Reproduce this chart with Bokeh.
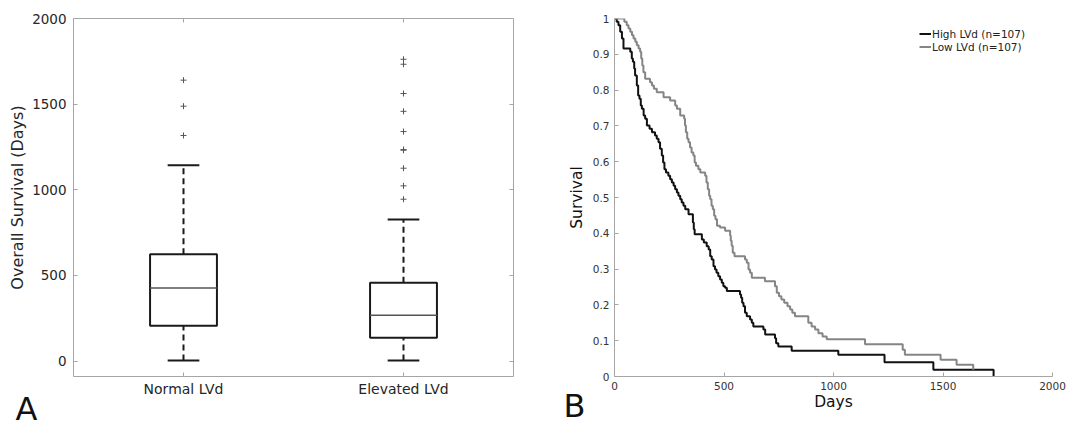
from bokeh.plotting import figure
from bokeh.layouts import row
from bokeh.models import (Range1d, FixedTicker, LinearAxis, Title, Legend,
                          LegendItem, NumeralTickFormatter)
from bokeh.embed import file_html
from bokeh.resources import INLINE

FONT = "DejaVu Sans"

# ---------------- Panel A: box plot data ----------------
categories = ["Normal LVd", "Elevated LVd"]
cat_pos = [1, 2]
q1 = [206, 136]
median = [426, 268]
q3 = [624, 457]
whisker_low = [4, 4]
whisker_high = [1143, 827]
outliers_normal = [1317, 1488, 1640]
outliers_elevated = [945, 1023, 1126, 1231, 1235, 1340, 1458, 1562, 1733, 1762]
box_y_ticks = [0, 500, 1000, 1500, 2000]

# ---------------- Panel B: Kaplan-Meier data ----------------
group_names = ["High LVd", "Low LVd"]
group_n = [107, 107]
high_t = [0, 10, 18, 26, 34, 41, 72, 79, 84, 90, 94, 102, 108, 114, 120, 125,
          133, 140, 148, 160, 171, 185, 193, 201, 208, 216, 222, 228, 235, 246,
          254, 262, 270, 277, 285, 292, 300, 307, 315, 323, 338, 358, 362, 366,
          399, 408, 421, 430, 437, 444, 452, 459, 466, 474, 482, 490, 497, 505,
          513, 573, 578, 583, 589, 596, 604, 619, 627, 634, 680, 688, 733, 738,
          748, 809, 1022, 1233, 1456, 1731]
high_s = [1.000, 0.991, 0.981, 0.963, 0.944, 0.916, 0.907, 0.888, 0.879, 0.860,
          0.841, 0.813, 0.785, 0.776, 0.757, 0.748, 0.729, 0.720, 0.701, 0.692,
          0.682, 0.673, 0.664, 0.654, 0.636, 0.617, 0.598, 0.579, 0.570, 0.561,
          0.551, 0.542, 0.533, 0.523, 0.514, 0.505, 0.495, 0.486, 0.477, 0.467,
          0.453, 0.430, 0.411, 0.397, 0.383, 0.374, 0.364, 0.355, 0.336, 0.327,
          0.308, 0.299, 0.290, 0.280, 0.271, 0.262, 0.252, 0.248, 0.239, 0.229,
          0.220, 0.206, 0.196, 0.178, 0.168, 0.159, 0.150, 0.140, 0.131, 0.117,
          0.107, 0.093, 0.084, 0.072, 0.061, 0.040, 0.019, 0.0]
low_t = [0, 45, 56, 64, 72, 80, 87, 95, 102, 110, 117, 122, 127, 132, 140, 162,
         171, 180, 193, 224, 254, 277, 285, 300, 318, 322, 326, 332, 338, 345,
         352, 360, 366, 372, 383, 392, 414, 420, 426, 432, 437, 443, 449, 455,
         461, 468, 482, 505, 528, 531, 535, 540, 548, 596, 604, 612, 619, 627,
         687, 733, 741, 751, 762, 775, 790, 802, 812, 824, 885, 900, 916, 931,
         950, 969, 1144, 1316, 1326, 1489, 1562, 1638]
low_s = [1.000, 0.991, 0.981, 0.972, 0.963, 0.953, 0.944, 0.935, 0.925, 0.916,
         0.907, 0.888, 0.869, 0.850, 0.832, 0.822, 0.813, 0.804, 0.794, 0.780,
         0.771, 0.757, 0.748, 0.729, 0.720, 0.701, 0.682, 0.664, 0.654, 0.640,
         0.626, 0.617, 0.598, 0.589, 0.579, 0.570, 0.561, 0.542, 0.523, 0.505,
         0.495, 0.477, 0.467, 0.449, 0.439, 0.421, 0.416, 0.407, 0.393, 0.379,
         0.365, 0.346, 0.336, 0.327, 0.318, 0.299, 0.290, 0.276, 0.266, 0.252,
         0.234, 0.224, 0.215, 0.206, 0.196, 0.187, 0.178, 0.168, 0.150, 0.140,
         0.131, 0.121, 0.112, 0.104, 0.090, 0.075, 0.061, 0.047, 0.033, 0.019]
km_x_ticks = [0, 500, 1000, 1500, 2000]
km_y_ticks = [0, 0.1, 0.2, 0.3, 0.4, 0.5, 0.6, 0.7, 0.8, 0.9, 1.0]

AXIS_GREY = "#a6a6a6"


def style_axis(ax, font_size, label_color="#262626", standoff=6):
    ax.axis_line_color = AXIS_GREY
    ax.major_tick_line_color = AXIS_GREY
    ax.major_tick_in = 4
    ax.major_tick_out = 0
    ax.minor_tick_line_color = None
    ax.major_label_text_font = FONT
    ax.major_label_text_font_size = font_size
    ax.major_label_text_color = label_color
    ax.major_label_standoff = standoff
    ax.axis_label_text_font = FONT
    ax.axis_label_text_font_style = "normal"


def panel_letter(letter, offset, standoff):
    return Title(text=letter, align="left", offset=offset,
                 vertical_align="top", standoff=standoff,
                 text_font=FONT, text_font_size="32px",
                 text_font_style="normal", text_color="#111111")


# ================= Panel A =================
p1 = figure(frame_width=440, frame_height=358,
            min_border_left=73, min_border_right=27,
            min_border_top=18, min_border_bottom=50,
            x_range=Range1d(0.5, 2.5), y_range=Range1d(-90, 2000),
            output_backend="svg", toolbar_location=None)
p1.grid.visible = False
p1.outline_line_color = None

half_box = 0.152
half_cap = 0.072
lefts = [c - half_box for c in cat_pos]
rights = [c + half_box for c in cat_pos]

# whiskers
p1.segment(x0=cat_pos, y0=q3, x1=cat_pos, y1=whisker_high,
           line_color="#1a1a1a", line_width=2, line_dash="6 4")
p1.segment(x0=cat_pos, y0=whisker_low, x1=cat_pos, y1=q1,
           line_color="#1a1a1a", line_width=2, line_dash="6 4")
p1.segment(x0=[c - half_cap for c in cat_pos], y0=whisker_high,
           x1=[c + half_cap for c in cat_pos], y1=whisker_high,
           line_color="#1a1a1a", line_width=2)
p1.segment(x0=[c - half_cap for c in cat_pos], y0=whisker_low,
           x1=[c + half_cap for c in cat_pos], y1=whisker_low,
           line_color="#1a1a1a", line_width=2)
# boxes
p1.quad(left=lefts, right=rights, bottom=q1, top=q3,
        fill_color="white", line_color="#1a1a1a", line_width=2)
p1.segment(x0=lefts, y0=median, x1=rights, y1=median,
           line_color="#555555", line_width=1.5)
# outliers
out_x = [cat_pos[0]] * len(outliers_normal) + [cat_pos[1]] * len(outliers_elevated)
out_y = outliers_normal + outliers_elevated
p1.scatter(out_x, out_y, marker="cross", size=6, line_color="#555555",
           line_width=1)

style_axis(p1.yaxis[0], "13.5px", standoff=7)
p1.yaxis[0].ticker = FixedTicker(ticks=box_y_ticks)
p1.yaxis[0].axis_label = "Overall Survival (Days)"
p1.yaxis[0].axis_label_text_font_size = "16px"
p1.yaxis[0].axis_label_text_color = "#262626"
p1.yaxis[0].axis_label_standoff = 2

style_axis(p1.xaxis[0], "14px", standoff=4)
p1.xaxis[0].ticker = FixedTicker(ticks=cat_pos)
p1.xaxis[0].major_label_overrides = {c: name for c, name in zip(cat_pos, categories)}

# frame: tick-only axes on the right and top (labels not painted)
ax_r = LinearAxis(ticker=FixedTicker(ticks=box_y_ticks))
style_axis(ax_r, "1px", standoff=0)
ax_r.major_label_text_color = None
p1.add_layout(ax_r, "right")
ax_t = LinearAxis(ticker=FixedTicker(ticks=cat_pos))
style_axis(ax_t, "1px", standoff=0)
ax_t.major_label_text_color = None
p1.add_layout(ax_t, "above")

p1.add_layout(panel_letter("A", -58, -20), "below")

# ================= Panel B =================
p2 = figure(frame_width=438, frame_height=358,
            min_border_left=74, min_border_right=20,
            min_border_top=16, min_border_bottom=52,
            x_range=Range1d(0, 2000), y_range=Range1d(0, 1),
            output_backend="svg", toolbar_location=None)
p2.grid.visible = False
p2.outline_line_color = None

r_hi = p2.step(high_t, high_s, mode="after", line_color="#111111", line_width=2)
r_lo = p2.step(low_t, low_s, mode="after", line_color="#858585", line_width=2)

style_axis(p2.xaxis[0], "10.5px", label_color="#333333", standoff=5)
p2.xaxis[0].ticker = FixedTicker(ticks=km_x_ticks)
p2.xaxis[0].axis_label = "Days"
p2.xaxis[0].axis_label_text_font_size = "15.5px"
p2.xaxis[0].axis_label_text_color = "#111111"
p2.xaxis[0].axis_label_standoff = 0

style_axis(p2.yaxis[0], "10.5px", label_color="#333333", standoff=5)
p2.yaxis[0].ticker = FixedTicker(ticks=km_y_ticks)
p2.yaxis[0].formatter = NumeralTickFormatter(format="0.[0]")
p2.yaxis[0].axis_label = "Survival"
p2.yaxis[0].axis_label_text_font_size = "15.5px"
p2.yaxis[0].axis_label_text_color = "#111111"
p2.yaxis[0].axis_label_standoff = 4

legend = Legend(items=[
    LegendItem(label=f"{group_names[0]} (n={group_n[0]})", renderers=[r_hi]),
    LegendItem(label=f"{group_names[1]} (n={group_n[1]})", renderers=[r_lo]),
], location=(305, 323))
legend.padding = 0
legend.margin = 0
legend.spacing = 0
legend.glyph_width = 12
legend.glyph_height = 13
legend.label_height = 13
legend.label_standoff = 1
legend.border_line_color = None
legend.background_fill_alpha = 0
legend.label_text_font = FONT
legend.label_text_font_size = "10.5px"
legend.label_text_color = "#222222"
p2.add_layout(legend)

p2.add_layout(panel_letter("B", -51, -54), "below")

layout = row(p1, p2)
open("out.html", "w").write(file_html(layout, INLINE))
